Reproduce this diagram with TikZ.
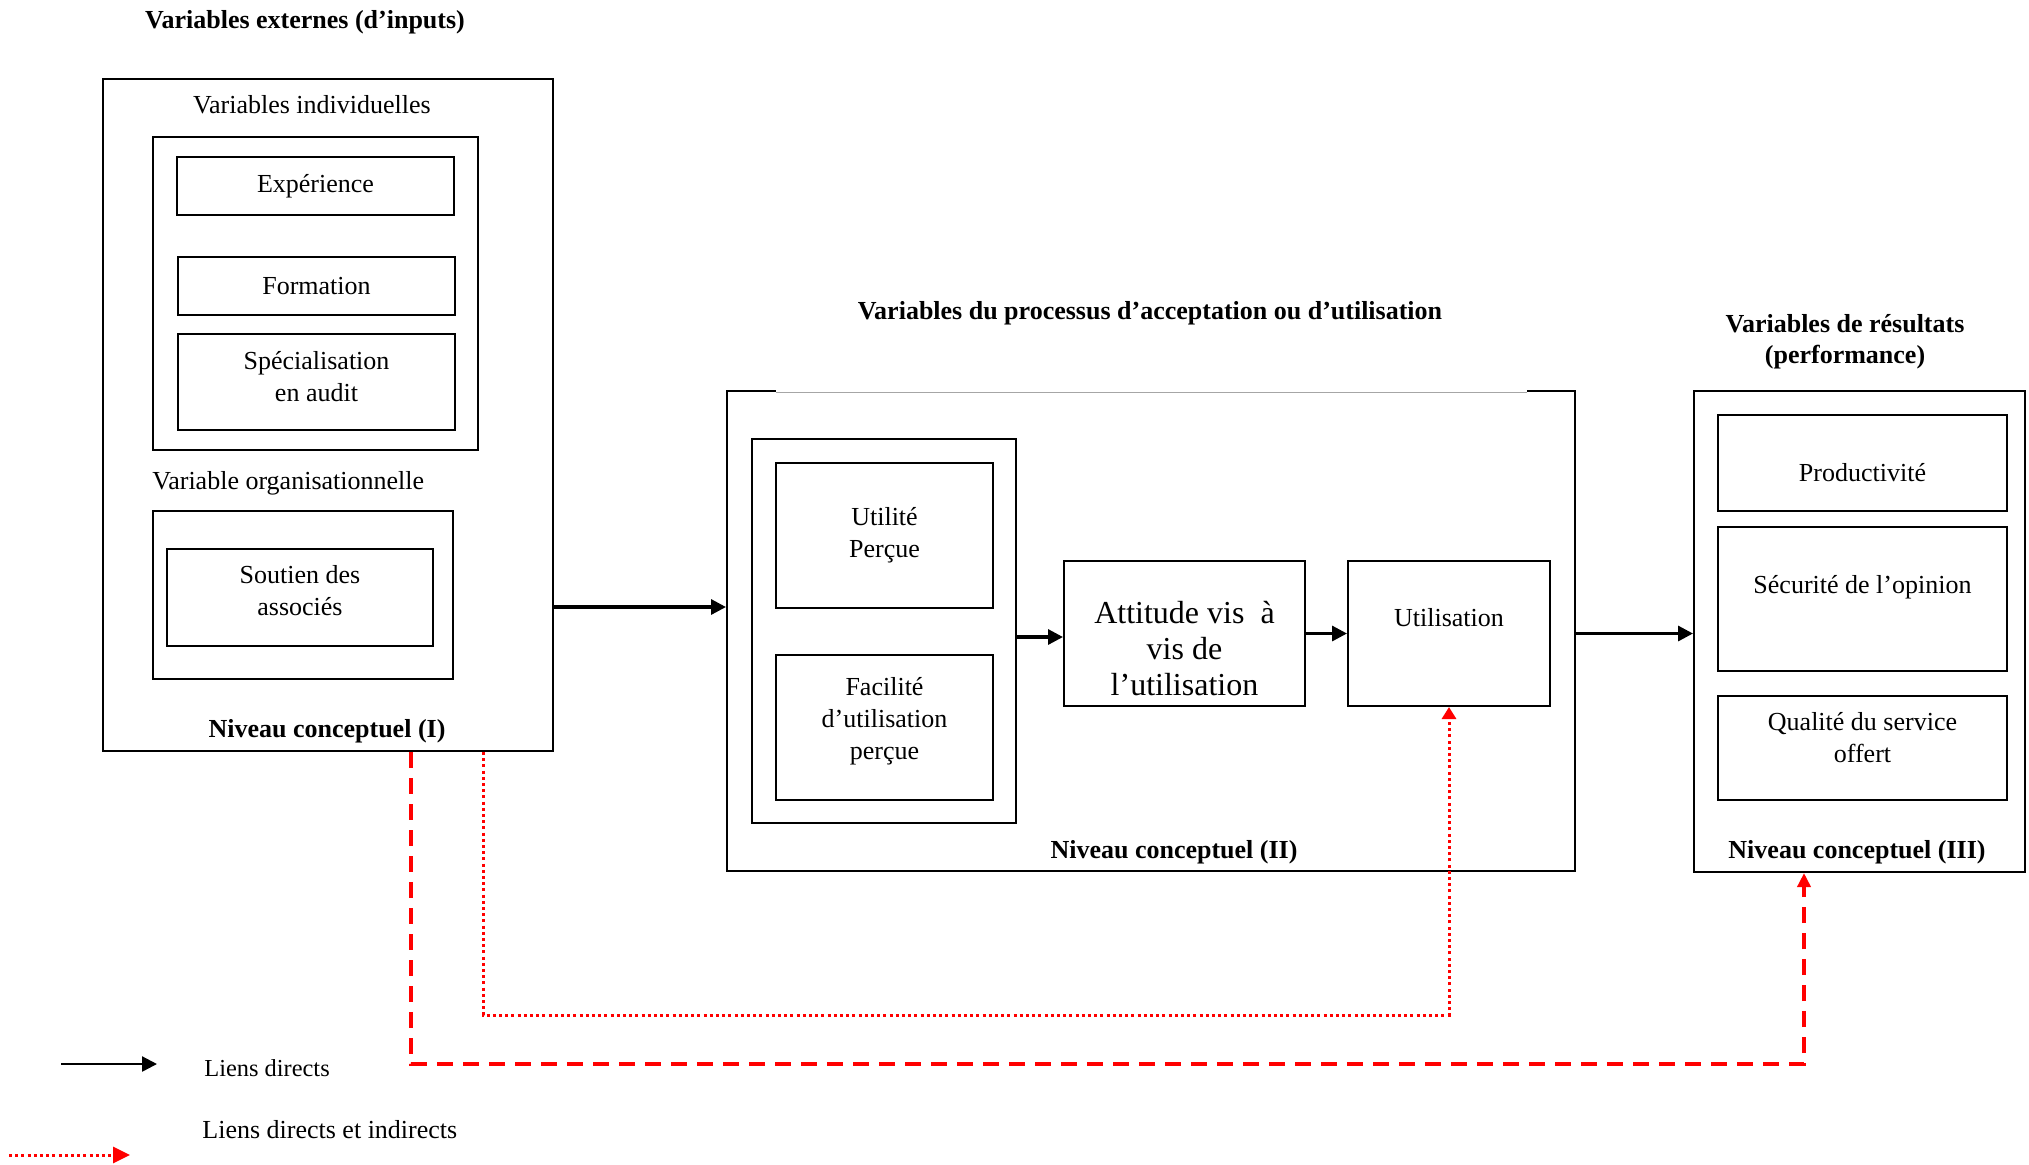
\documentclass[tikz,border=0pt]{standalone}
\usepackage{fontspec}
\setmainfont{Liberation Serif}
\usetikzlibrary{arrows.meta}

\begin{document}
\begin{tikzpicture}[x=0.5pt,y=-0.5pt,font=\fontsize{13}{16}\selectfont,
    box/.style={draw,line width=1pt,inner sep=2pt,align=center},
    head/.style={font=\fontsize{13}{15.5}\selectfont\bfseries,align=center},
    direct/.style={line width=1.6pt,-{Triangle[length=7.5pt,width=7.5pt]}},
    dashlink/.style={red,line width=1.8pt,dash pattern=on 8pt off 5pt,-{Triangle[length=7pt,width=6.5pt]}},
    dotlink/.style={red,line width=1.5pt,dash pattern=on 1.5pt off 1.6pt,-{Triangle[length=6pt,width=7pt]}}]
  \useasboundingbox (0,0) rectangle (2029,1164);

  % niveau I
  \node[head] (titre1) at (305,22) {Variables externes (d’inputs)};
  \node[box,minimum width=225pt,minimum height=336pt] (niv1) at (328,415) {};
  \node (indtitre) at (312,105) {Variables individuelles};
  \node[box,minimum width=162.5pt,minimum height=156.5pt] (indiv) at (315.5,293.5) {};
  \node[box,minimum width=138.5pt,minimum height=29pt] (exper) at (315.5,186) {Expérience};
  \node[box,minimum width=138.5pt,minimum height=29pt] (forma) at (316.5,286) {Formation};
  \node[box,minimum width=138.5pt,minimum height=48pt] (specia) at (316.5,382) {};
  \node[align=center] (speciatxt) at (316.5,377) {Spécialisation\\en audit};
  \node[anchor=west,inner sep=0pt] (orgtitre) at (152,483) {Variable organisationnelle};
  \node[box,minimum width=150pt,minimum height=84pt] (orga) at (303,595) {};
  \node[box,minimum width=133pt,minimum height=48.5pt] (soutien) at (300,597.5) {};
  \node[align=center] (soutientxt) at (300,591) {Soutien des\\associés};
  \node[head] (niveau1) at (327,731) {Niveau conceptuel (I)};

  % niveau II
  \node[head] (titre2) at (1150,313) {Variables du processus d’acceptation ou d’utilisation};
  \node[box,minimum width=424pt,minimum height=240pt] (niv2) at (1151,631) {};
  \draw[white,line width=1.6pt] (776,391) -- (1527,391);
  \draw[gray!70,line width=0.4pt] (776,392) -- (1527,392);
  \node[box,minimum width=132pt,minimum height=192pt] (grp) at (884,631) {};
  \node[box,minimum width=108.5pt,minimum height=72.5pt] (utile) at (884.5,535.5) {Utilité\\Perçue};
  \node[box,minimum width=108.5pt,minimum height=72.5pt] (facile) at (884.5,727.5) {};
  \node[align=center] (faciletxt) at (884.5,721) {Facilité\\d’utilisation\\perçue};
  \node[box,minimum width=120.5pt,minimum height=72.5pt] (att) at (1184.5,633.5) {};
  \node[font=\fontsize{16}{18}\selectfont,align=center] (atttxt) at (1184.5,649) {Attitude vis\ \ à\\vis de\\l’utilisation};
  \node[box,minimum width=101pt,minimum height=72.5pt] (usage) at (1449,633.5) {};
  \node (usagetxt) at (1449,618) {Utilisation};
  \node[head] (niveau2) at (1174,852) {Niveau conceptuel (II)};

  % niveau III
  \node[head] (titre3) at (1845,342) {Variables de résultats\\(performance)};
  \node[box,minimum width=165.5pt,minimum height=240.5pt] (niv3) at (1859.5,631.5) {};
  \node[box,minimum width=144.5pt,minimum height=48pt] (prod) at (1862.5,463) {};
  \node (prodtxt) at (1862.5,473) {Productivité};
  \node[box,minimum width=144.5pt,minimum height=72pt] (secu) at (1862.5,599) {};
  \node (secutxt) at (1862.5,587) {Sécurité de l’opinion};
  \node[box,minimum width=144.5pt,minimum height=52pt] (qual) at (1862.5,748) {};
  \node[align=center] (qualtxt) at (1862.5,738) {Qualité du service\\offert};
  \node[head] (niveau3) at (1857,852) {Niveau conceptuel (III)};

  % liens
  \draw[direct] (niv1.east |- 0,607) -- (niv2.west |- 0,607);
  \draw[direct] (grp.east |- 0,637) -- (att.west |- 0,637);
  \draw[direct] (att.east) -- (usage.west);
  \draw[direct] (niv2.east |- att.east) -- (niv3.west |- att.east);
  \draw[dashlink] (niv1.south -| 411,0) |- (1804,1064) -- (niv3.south -| 1804,0);
  \draw[dotlink] (niv1.south -| 483,0) |- (usage.south |- 0,1015) -- (usage.south);

  % legende
  \coordinate (leg1a) at (61,1064);
  \coordinate (leg1b) at (157,1064);
  \draw[line width=1.2pt,-{Triangle[length=7.5pt,width=7.5pt]}] (leg1a) -- (leg1b);
  \node[anchor=west,inner sep=0pt,font=\fontsize{12.2}{15}\selectfont] (leg1) at (204,1068) {Liens directs};
  \coordinate (leg2a) at (9,1155);
  \coordinate (leg2b) at (130,1155);
  \draw[dotlink,-{Triangle[length=8.5pt,width=8pt]}] (leg2a) -- (leg2b);
  \node[anchor=west,inner sep=0pt] (leg2) at (202,1130) {Liens directs et indirects};
\end{tikzpicture}
\end{document}
